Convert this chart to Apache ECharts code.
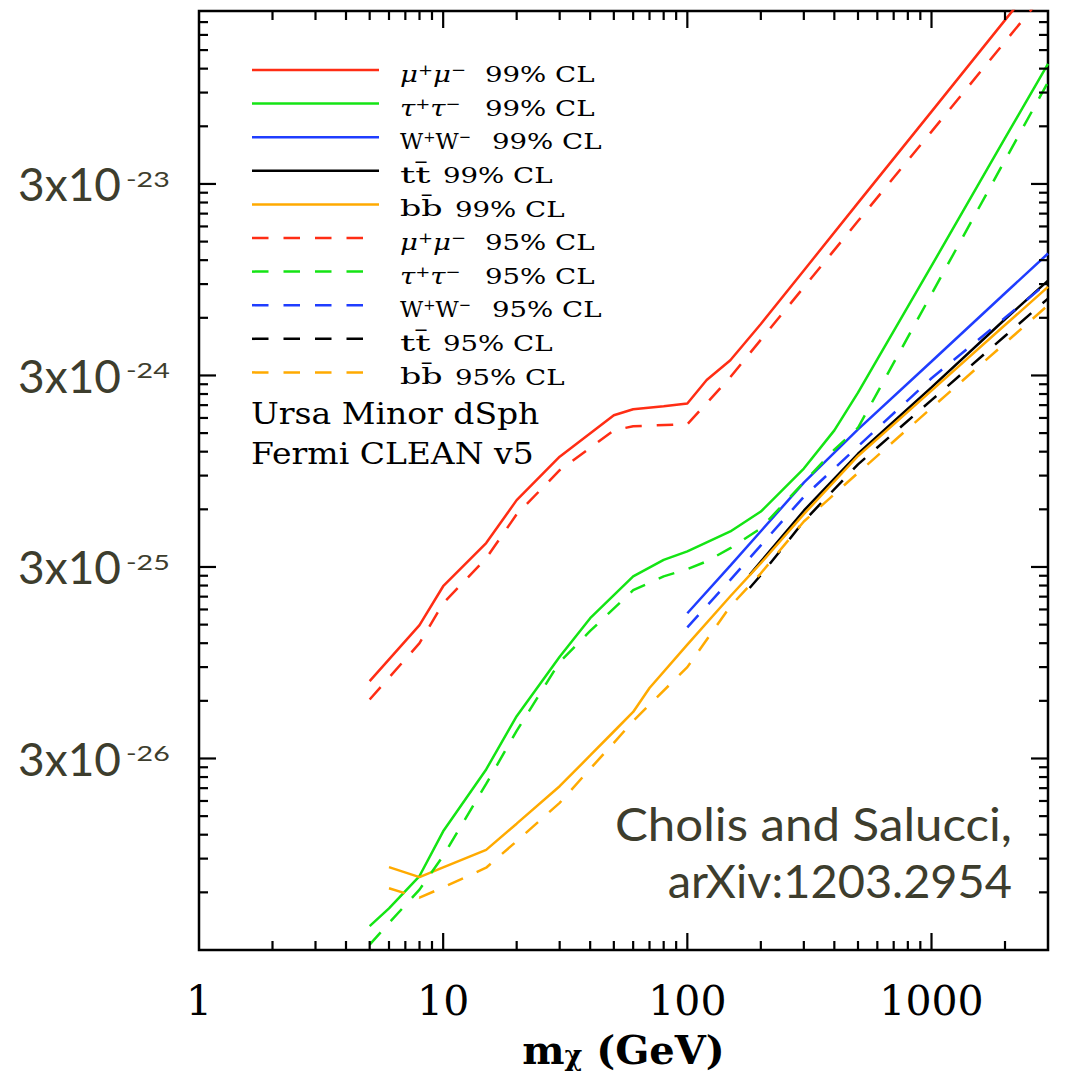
<!DOCTYPE html>
<html><head><meta charset="utf-8">
<script src="https://cdn.jsdelivr.net/npm/echarts@6/dist/echarts.min.js"></script>
<style>html,body{margin:0;padding:0;background:#fff}#c{width:1067px;height:1086px}</style>
</head><body><div id="c"></div>
<script>
// ---------- data (m_chi in GeV, <sigma v> in cm^3/s) ----------
const massMuMu99 = [5,8,10,15,20,30,50,60,80,100,120,150,200,300,500,1000,2000,3000];
const sigvMuMu99 = [7.6e-26,1.49e-25,2.38e-25,4.0e-25,6.7e-25,1.13e-24,1.86e-24,2.0e-24,2.07e-24,2.14e-24,2.84e-24,3.6e-24,5.57e-24,1.06e-23,2.39e-23,7.16e-23,2.15e-22,4.08e-22];
const massMuMu95 = [5,8,10,15,20,30,50,60,100,120,150,200,300,500,1000,2000,3000];
const sigvMuMu95 = [6.1e-26,1.2e-25,1.94e-25,3.33e-25,5.65e-25,9.6e-25,1.55e-24,1.63e-24,1.67e-24,2.15e-24,2.94e-24,4.61e-24,8.67e-24,1.92e-23,5.63e-23,1.66e-22,3.11e-22];
const massTauTau99 = [5,6,8,10,15,20,30,40,60,80,100,150,200,300,400,500,1000,2000,3000];
const sigvTauTau99 = [4.0e-27,4.95e-27,7.3e-27,1.25e-26,2.63e-26,4.99e-26,1.02e-25,1.62e-25,2.68e-25,3.27e-25,3.62e-25,4.6e-25,5.84e-25,9.8e-25,1.55e-24,2.44e-24,1.12e-23,5.2e-23,1.27e-22];
const massTauTau95 = [5,6,8,10,15,20,30,40,60,80,100,120,150,200,300,400,500,1000,2000,3000];
const sigvTauTau95 = [3.2e-27,4.15e-27,6.2e-27,9.3e-27,2.21e-26,4.18e-26,9.57e-26,1.39e-25,2.27e-25,2.68e-25,2.92e-25,3.21e-25,3.76e-25,4.78e-25,8.3e-25,1.23e-24,1.6e-24,7.98e-24,3.99e-23,1.02e-22];
const massWW99 = [100,150,200,300,500,1000,2000,3000];
const sigvWW99 = [1.72e-25,3.05e-25,4.61e-25,8.27e-25,1.57e-24,3.55e-24,8.06e-24,1.3e-23];
const massWW95 = [100,150,200,300,500,1000,2000,3000];
const sigvWW95 = [1.45e-25,2.57e-25,3.89e-25,6.98e-25,1.28e-24,2.9e-24,6.0e-24,9.2e-24];
const massTT99 = [180,200,300,500,1000,2000,3000];
const sigvTT99 = [2.73e-25,3.2e-25,5.9e-25,1.17e-24,2.6e-24,5.9e-24,9.38e-24];
const massTT95 = [180,200,300,500,1000,2000,3000];
const sigvTT95 = [2.33e-25,2.72e-25,5.2e-25,1.03e-24,2.23e-24,4.82e-24,7.56e-24];
const massBB99 = [6,8,10,15,20,30,40,50,60,70,100,150,200,300,500,1000,2000,3000];
const sigvBB99 = [8.13e-27,7.2e-27,8.1e-27,1.0e-26,1.37e-26,2.15e-26,3.11e-26,4.15e-26,5.25e-26,7.0e-26,1.18e-25,2.11e-25,3.14e-25,5.66e-25,1.14e-24,2.5e-24,5.5e-24,8.7e-24];
const massBB95 = [6,8,10,15,20,30,40,50,60,100,150,200,300,500,1000,2000,3000];
const sigvBB95 = [6.3e-27,5.63e-27,6.37e-27,8.07e-27,1.11e-26,1.76e-26,2.65e-26,3.62e-26,4.71e-26,9.0e-26,1.87e-25,2.78e-25,5.18e-25,9.3e-25,2.03e-24,4.42e-24,6.98e-24];

// ---------- ticks / labels ----------
const xTickValues = [1,10,100,1000];
const xTickLabels = ['1','10','100','1000'];
const yTickValues = [3e-26,3e-25,3e-24,3e-23];
const yTickBase = '3x10';
const yTickExponents = ['-26','-25','-24','-23'];
const seriesNames = ['μ+μ− 99% CL','τ+τ− 99% CL','W+W− 99% CL','tt̄ 99% CL','bb̄ 99% CL',
                     'μ+μ− 95% CL','τ+τ− 95% CL','W+W− 95% CL','tt̄ 95% CL','bb̄ 95% CL'];
const channelRich = ['{g|μ}{s|+}{g|μ}{s|−}','{g|τ}{s|+}{g|τ}{s|−}','W{s|+}W{s|−}','tt̄','bb̄'];
const clLabels = ['99% CL','95% CL'];
const noteLines = ['Ursa Minor dSph','Fermi CLEAN v5'];
const creditLines = ['Cholis and Salucci,','arXiv:1203.2954'];

const X_MIN = 1, X_MAX = 3000, Y_MIN = 3e-27, Y_MAX = 2.4e-22;
const colors = ['#ff2d14','#14e414','#1f3dff','#000000','#ffaa00'];
const DASH = [16.5,15];

const groups = [
  [massMuMu99,sigvMuMu99],[massTauTau99,sigvTauTau99],[massWW99,sigvWW99],[massTT99,sigvTT99],[massBB99,sigvBB99],
  [massMuMu95,sigvMuMu95],[massTauTau95,sigvTauTau95],[massWW95,sigvWW95],[massTT95,sigvTT95],[massBB95,sigvBB95]
];

const lineSeries = groups.map((g,i)=>({
  name: seriesNames[i],
  type: 'line',
  data: g[0].map((m,j)=>[m,g[1][j]]),
  symbol: 'none',
  clip: true,
  silent: true,
  z: 3,
  lineStyle: {color: colors[i%5], width: 2.5, type: i<5 ? 'solid' : DASH, cap: 'butt'}
}));

const OLIVE = '#3d3d2d';

function renderFrame(params, api){
  if (params.dataIndex !== 0) return null;
  const ch = [];
  const st = {stroke:'#000', lineWidth:2.2};
  const MAJ = 17, MIN = 9;
  for (let d=0; d<=3; d++){
    for (let k=1; k<=9; k++){
      const v = k*Math.pow(10,d);
      if (v <= X_MIN*1.0001 || v >= X_MAX*0.9999) continue;
      const len = k===1 ? MAJ : MIN;
      const b = api.coord([v, Y_MIN]), t = api.coord([v, Y_MAX]);
      ch.push({type:'line', shape:{x1:b[0],y1:b[1],x2:b[0],y2:b[1]-len}, style:st});
      ch.push({type:'line', shape:{x1:t[0],y1:t[1],x2:t[0],y2:t[1]+len}, style:st});
    }
  }
  for (let d=0; d<=5; d++){
    for (let k=1; k<=9; k++){
      const v = Y_MIN*k*Math.pow(10,d);
      if (v <= Y_MIN*1.0001 || v >= Y_MAX*0.9999) continue;
      const len = k===1 ? MAJ : MIN;
      const l = api.coord([X_MIN, v]), r = api.coord([X_MAX, v]);
      ch.push({type:'line', shape:{x1:l[0],y1:l[1],x2:l[0]+len,y2:l[1]}, style:st});
      ch.push({type:'line', shape:{x1:r[0],y1:r[1],x2:r[0]-len,y2:r[1]}, style:st});
    }
  }
  yTickValues.forEach((v,i)=>{
    const p = api.coord([X_MIN, v]);
    ch.push({type:'text', x:p[0]-78, y:p[1], style:{text:yTickBase, fontFamily:'Lato', fontSize:46, fill:OLIVE, align:'right', verticalAlign:'middle'}});
    ch.push({type:'text', x:p[0]-73, y:p[1]-6, scaleX:1.3, style:{text:yTickExponents[i], fontFamily:'Lato', fontSize:22, fill:OLIVE, align:'left', verticalAlign:'middle'}});
  });
  return {type:'group', children: ch};
}

// legend drawn as graphics (stretched typewriter-like text as in the original)
const SERIF = 'DejaVu Serif';
const channelScale = [1.2,1.2,0.98,1.65,1.45];
const clX = [485,485,492,443,455];
const legendGraphics = [];
seriesNames.forEach((n,i)=>{
  const y = 70 + i*33.6;
  const c = i%5;
  legendGraphics.push({type:'line', shape:{x1:252,y1:y,x2:i<5?379:365,y2:y},
    style:{stroke:colors[c], lineWidth:2.5, lineDash: i<5 ? null : DASH}, silent:true});
  legendGraphics.push({type:'text', x:400, y:y+4, scaleX:channelScale[c],
    style:{text:channelRich[c], fontFamily:SERIF, fontSize:23, fill:'#000', verticalAlign:'middle',
      rich:{g:{fontFamily:SERIF, fontStyle:'italic', fontSize:23, fill:'#000'},
            s:{fontFamily:SERIF, fontSize:15, fill:'#000', verticalAlign:'top', lineHeight:12}}}, silent:true});
  legendGraphics.push({type:'text', x:clX[c], y:y+4, scaleX:1.2,
    style:{text:clLabels[i<5?0:1], fontFamily:SERIF, fontSize:23, fill:'#000', verticalAlign:'middle'}, silent:true});
});
noteLines.forEach((t,i)=>{
  legendGraphics.push({type:'text', x:251, y:414+i*40, scaleX:1.1, style:{text:t, fontFamily:SERIF, fontSize:30, fill:'#000', verticalAlign:'middle'}, silent:true});
});
const creditScale = [1.07,1.02];
creditLines.forEach((t,i)=>{
  legendGraphics.push({type:'text', x:1012, y:823+i*57, scaleX:creditScale[i], style:{text:t, fontFamily:'Lato', fontSize:46, fill:OLIVE, align:'right', verticalAlign:'middle'}, silent:true});
});

const chart = echarts.init(document.getElementById('c'), null, {renderer:'svg'});
chart.setOption({
  animation: false,
  backgroundColor: '#fff',
  grid: {left:199, right:19, top:11, bottom:134, show:true, borderColor:'#000', borderWidth:2.5, backgroundColor:'transparent', containLabel:false},
  xAxis: {
    type:'log', min:X_MIN, max:X_MAX, logBase:10,
    axisLine:{show:false}, axisTick:{show:false}, splitLine:{show:false},
    axisLabel:{show:true, margin:30, fontFamily:SERIF, fontSize:41, color:'#000',
      formatter:function(v){ for (let i=0;i<xTickValues.length;i++){ if (Math.abs(Math.log10(v)-Math.log10(xTickValues[i]))<1e-6) return xTickLabels[i]; } return ''; }},
    name:'{m|m}{c|χ}{g| (GeV)}', nameLocation:'middle', nameGap:79,
    nameTextStyle:{rich:{
      m:{fontFamily:SERIF, fontWeight:'bold', fontSize:40, lineHeight:40, padding:[0,0,12,0], verticalAlign:'top', color:'#000'},
      c:{fontFamily:SERIF, fontWeight:'bold', fontSize:27, lineHeight:27, verticalAlign:'bottom', color:'#000'},
      g:{fontFamily:SERIF, fontWeight:'bold', fontSize:40, lineHeight:40, padding:[0,0,12,0], verticalAlign:'top', color:'#000'}
    }}
  },
  yAxis: {
    type:'log', min:Y_MIN, max:Y_MAX, logBase:10,
    axisLine:{show:false}, axisTick:{show:false}, splitLine:{show:false}, axisLabel:{show:false}
  },
  graphic: legendGraphics,
  series: lineSeries.concat([{
    type:'custom', coordinateSystem:'cartesian2d', renderItem:renderFrame, data:[[X_MIN, Y_MIN]],
    silent:true, clip:false, z:5
  }])
});
</script></body></html>
